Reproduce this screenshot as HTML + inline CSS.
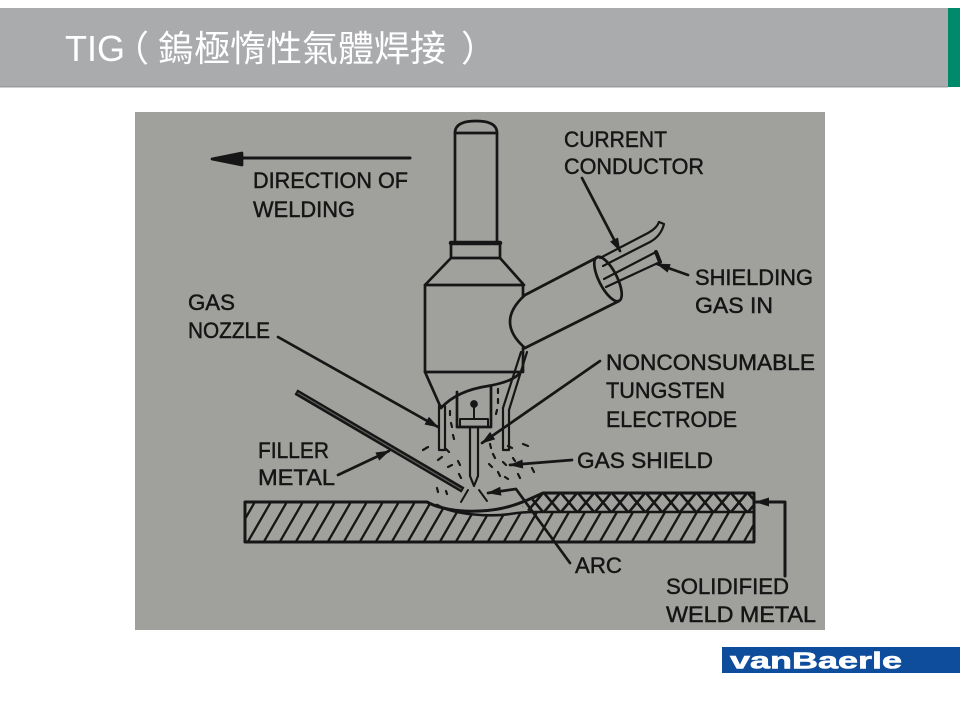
<!DOCTYPE html>
<html><head><meta charset="utf-8">
<style>
html,body{margin:0;padding:0;background:#fff;}
svg{display:block;}
</style></head>
<body>
<svg width="960" height="720" viewBox="0 0 960 720" xmlns="http://www.w3.org/2000/svg">
<defs>
<marker id="ah" viewBox="0 0 14 9" refX="13" refY="4.5" markerWidth="14" markerHeight="9" markerUnits="userSpaceOnUse" orient="auto"><path d="M0,0 L14,4.5 L0,9 Z" fill="#161616"/></marker>
<clipPath id="plate"><path d="M245,502 L430,503 C450,513 490,518 510,515 C522,513 530,512 540,512 L754,512 L754,542 L245,542 Z"/></clipPath>
<clipPath id="bead"><path d="M522,506 L543,493 L754,493 L754,512 L530,512 Z"/></clipPath>
</defs>
<rect width="960" height="720" fill="#fff"/>
<!-- header -->
<rect x="0" y="8" width="948" height="79" fill="#aaabad"/>
<rect x="0" y="86" width="948" height="1.5" fill="#9c9d9f"/>
<rect x="948" y="8" width="12" height="79" fill="#00896a"/>
<text x="65" y="61" fill="#ffffff" font-size="36" font-family="'Liberation Sans','Noto Sans CJK TC',sans-serif">TIG<tspan x="113">（</tspan><tspan x="158">鎢極惰性氣體焊接</tspan><tspan x="461">）</tspan></text>

<!-- photo -->
<rect x="135" y="112" width="690" height="518" fill="#a0a19d"/>

<g stroke="#161616" stroke-width="2.7" fill="none" stroke-linecap="round" stroke-linejoin="round">
  <!-- direction arrow -->
  <line x1="238" y1="158" x2="410" y2="158" stroke-width="3"/>
  <path d="M212,159 L242,153 L242,165 Z" fill="#161616"/>

  <!-- torch top -->
  <path d="M455,133 C455,124 464,121 476,121 C488,121 497,124 497,133 Z"/>
  <path d="M455,133 L455,243 M497,133 L497,243"/>
  <rect x="451" y="243" width="49" height="15"/>
  <line x1="451" y1="243" x2="500" y2="243" stroke-width="4.5"/>
  <path d="M451,258 L425,285 L524,285 L500,258"/>
  <path d="M425,285 L425,372 L441,408"/>
  <path d="M523,285 L523,296"/>
  <path d="M523,348 L523,372"/>
  <path d="M425,372 L521,372"/>
  <path d="M441,408 C452,396 468,389 488,386 C505,383 515,379 521,372"/>
  <rect x="439" y="406" width="6" height="44" stroke-width="2.2"/>
  <path d="M527,352 L509,410 L509,450 L503,450 L503,408 L521,352" stroke-width="2.2"/>

  <!-- collet & electrode -->
  <path d="M457,392 L457,427 L491,427 L491,386"/>
  <path d="M460,427 L460,419 L488,419 L488,427" stroke-width="2"/>
  <path d="M474,406 L474,419" stroke-width="2"/>
  <circle cx="474" cy="404" r="2.5" fill="#161616"/>
  <path d="M470,427 L470,476 L474,486 L478,476 L478,427" stroke-width="2.2"/>

  <!-- cable -->
  <path d="M525,295 L598,257 M525,348 L619,301"/>
  <path d="M525,295 Q495,322 525,348"/>
  <ellipse cx="608" cy="279" rx="24.5" ry="9" transform="rotate(63 608 279)"/>
  <!-- wires -->
  <path d="M600,258 L648,233 Q657,228 659,222" stroke-width="2.2"/>
  <path d="M603,266 L650,242 Q661,236 664,224 L659,222" stroke-width="2.2"/>
  <path d="M604,279 L656,252" stroke-width="2.2"/>
  <path d="M606,287 L660,262" stroke-width="2.2"/>
  <path d="M656,252 L660,262" stroke-width="4"/>

  <!-- filler rod -->
  <line x1="296" y1="392" x2="463" y2="490" stroke-width="6" stroke-linecap="butt"/>
  <line x1="298" y1="393" x2="461" y2="489" stroke-width="1.2" stroke="#5e5f5c"/>

  <!-- arc rays -->
  <path d="M468,490 L461,502 M479,490 L487,501" stroke-width="2"/>

  <!-- gas dashes -->
  <path stroke-width="2.2" d="M450,411 l0,4 M451,423 l1,4 M453,435 l1,4 M498,389 l0,4 M498,399 l0,4 M497,410 l-1,4 M423,450 l5,-3 M438,460 l4,-3 M448,467 l4,-2 M458,461 l2,4 M459,474 l2,4 M446,449 l3,3 M490,444 l1,4 M493,454 l2,4 M489,464 l3,3 M498,472 l2,4 M503,462 l3,3 M508,446 l4,2 M523,444 l5,2 M532,468 l2,4 M518,474 l2,4 M437,488 l1,4 M446,491 l1,3 M505,477 l3,2 M513,458 l2,3"/>

  <!-- plate -->
  <g clip-path="url(#plate)" stroke-width="2.3">
    <path d="M214,545 l26,-45 M230,545 l26,-45 M246,545 l26,-45 M262,545 l26,-45 M278,545 l26,-45 M294,545 l26,-45 M310,545 l26,-45 M326,545 l26,-45 M342,545 l26,-45 M358,545 l26,-45 M374,545 l26,-45 M390,545 l26,-45 M406,545 l26,-45 M422,545 l26,-45 M438,545 l26,-45 M454,545 l26,-45 M470,545 l26,-45 M486,545 l26,-45 M502,545 l26,-45 M518,545 l26,-45 M534,545 l26,-45 M550,545 l26,-45 M566,545 l26,-45 M582,545 l26,-45 M598,545 l26,-45 M614,545 l26,-45 M630,545 l26,-45 M646,545 l26,-45 M662,545 l26,-45 M678,545 l26,-45 M694,545 l26,-45 M710,545 l26,-45 M726,545 l26,-45 M742,545 l26,-45"/>
  </g>
  <g clip-path="url(#bead)" stroke-width="2.6">
    <path d="M510,512 l16,-19 M527,512 l16,-19 M544,512 l16,-19 M561,512 l16,-19 M578,512 l16,-19 M595,512 l16,-19 M612,512 l16,-19 M629,512 l16,-19 M646,512 l16,-19 M663,512 l16,-19 M680,512 l16,-19 M697,512 l16,-19 M714,512 l16,-19 M731,512 l16,-19 M748,512 l16,-19"/>
    <path d="M510,493 l16,19 M527,493 l16,19 M544,493 l16,19 M561,493 l16,19 M578,493 l16,19 M595,493 l16,19 M612,493 l16,19 M629,493 l16,19 M646,493 l16,19 M663,493 l16,19 M680,493 l16,19 M697,493 l16,19 M714,493 l16,19 M731,493 l16,19 M748,493 l16,19"/>
  </g>
  <path d="M245,502 L427,502 C440,509 458,512 480,511 C505,510 522,503 543,493 L754,493 L754,542 L245,542 Z" stroke-width="3"/>
  <path d="M437,505 C455,515 490,517 510,514 C522,512 528,512 535,512 L754,512" stroke-width="2.6"/>

  <!-- leaders -->
  <line x1="582" y1="178" x2="620" y2="251" marker-end="url(#ah)"/>
  <line x1="688" y1="275" x2="657" y2="264" marker-end="url(#ah)"/>
  <line x1="278" y1="337" x2="438" y2="427" marker-end="url(#ah)"/>
  <line x1="600" y1="361" x2="482" y2="443" marker-end="url(#ah)"/>
  <line x1="338" y1="475" x2="389" y2="451" marker-end="url(#ah)"/>
  <line x1="572" y1="460" x2="510" y2="465" marker-end="url(#ah)"/>
  <polyline points="570,563 516,489 488,493" marker-end="url(#ah)"/>
  <polyline points="785,576 785,502 756,502" marker-end="url(#ah)" stroke-width="3"/>
</g>

<!-- labels -->
<g fill="#151515" stroke="#151515" stroke-width="0.45" font-size="22" font-family="'Liberation Sans',sans-serif">
  <text x="253" y="188" textLength="155" lengthAdjust="spacingAndGlyphs">DIRECTION OF</text>
  <text x="253" y="217" textLength="102" lengthAdjust="spacingAndGlyphs">WELDING</text>
  <text x="564" y="147" textLength="103" lengthAdjust="spacingAndGlyphs">CURRENT</text>
  <text x="564" y="174" textLength="140" lengthAdjust="spacingAndGlyphs">CONDUCTOR</text>
  <text x="695" y="285" textLength="118" lengthAdjust="spacingAndGlyphs">SHIELDING</text>
  <text x="695" y="313" textLength="78" lengthAdjust="spacingAndGlyphs">GAS IN</text>
  <text x="188" y="310" textLength="47" lengthAdjust="spacingAndGlyphs">GAS</text>
  <text x="188" y="338" textLength="82" lengthAdjust="spacingAndGlyphs">NOZZLE</text>
  <text x="606" y="370" textLength="209" lengthAdjust="spacingAndGlyphs">NONCONSUMABLE</text>
  <text x="606" y="398" textLength="119" lengthAdjust="spacingAndGlyphs">TUNGSTEN</text>
  <text x="606" y="427" textLength="131" lengthAdjust="spacingAndGlyphs">ELECTRODE</text>
  <text x="577" y="468" textLength="136" lengthAdjust="spacingAndGlyphs">GAS SHIELD</text>
  <text x="258" y="458" textLength="71" lengthAdjust="spacingAndGlyphs">FILLER</text>
  <text x="258" y="485" textLength="77" lengthAdjust="spacingAndGlyphs">METAL</text>
  <text x="575" y="573" textLength="47" lengthAdjust="spacingAndGlyphs">ARC</text>
  <text x="666" y="594" textLength="123" lengthAdjust="spacingAndGlyphs">SOLIDIFIED</text>
  <text x="666" y="622" textLength="150" lengthAdjust="spacingAndGlyphs">WELD METAL</text>
</g>

<!-- logo -->
<rect x="722" y="647" width="238" height="26" fill="#0e4c9c"/>
<text x="730" y="668.5" fill="#ffffff" stroke="#ffffff" stroke-width="0.6" font-size="23" font-weight="bold" font-family="'Liberation Sans',sans-serif" textLength="172" lengthAdjust="spacingAndGlyphs">vanBaerle</text>
</svg>
</body></html>
